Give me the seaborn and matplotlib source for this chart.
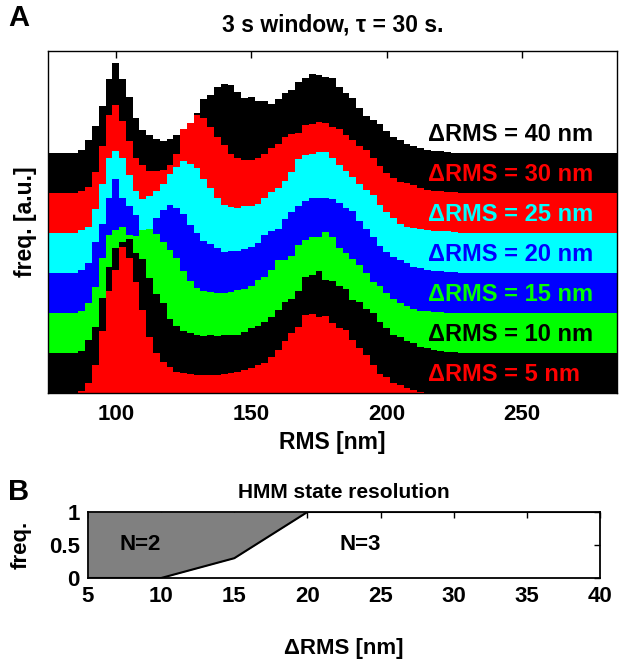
import numpy as np
import matplotlib
matplotlib.use("Agg")
import matplotlib.pyplot as plt
import seaborn as sns
import pandas as pd

# ---------------- data ----------------
rms_centers = np.arange(85, 230.01, 2.5)   # histogram bin centres [nm]
bin_width = 2.5

h40 = [0, 0.75, 3.2, 6.75, 11.75, 18.4, 22.4, 18.4, 14, 8.7,
       5.75, 4.5, 3.4, 3, 3.4, 4.5, 5.5, 7.0, 9.9, 13.4,
       14.6, 16.5, 17.2, 17, 15.25, 13.75, 14, 13.1, 12.9, 12.25,
       13.4, 14.9, 15.7, 17.75, 18.7, 19.7, 19.5, 19.1, 18.7, 16.5,
       15, 13.75, 11.25, 9.25, 8.25, 7.25, 5.5, 4, 3.25, 2.25,
       1.75, 1.25, 0.75, 0.5, 0.4, 0.25, 0.1, 0.1, 0]
h30 = [0, 0.5, 1.5, 5.25, 11.75, 19.5, 22, 18, 13, 8.75,
       7, 5.5, 5.4, 5.75, 7, 9.75, 16, 17.6, 19.5, 18.8,
       16.5, 14, 12, 9.8, 8.7, 8.2, 8.2, 8.7, 9.8, 11.2,
       12.2, 14, 14.8, 15, 17, 17.3, 17.75, 17.5, 16.5, 16,
       14.5, 13.2, 11.75, 10.7, 8.8, 6.75, 5, 3.8, 2.8, 2.6,
       1.9, 1.3, 0.7, 0.5, 0.4, 0.25, 0.2, 0.1, 0]
h25 = [0, 0.75, 1.6, 5.9, 12.3, 18.7, 20.5, 18.7, 14.5, 10.5,
       8.4, 9.25, 10.5, 12.3, 14.7, 16.5, 18, 17.3, 16.2, 13.4,
       11.3, 8.8, 7, 6.5, 6.3, 6.75, 6.75, 7.2, 8.7, 10.3,
       11.2, 13, 15.3, 18.4, 19.5, 19.8, 20.3, 20.3, 18.7, 17,
       15.5, 14, 12.2, 10.75, 9.5, 7, 5.25, 3.75, 2.2, 1.6,
       1.2, 0.9, 0.75, 0.6, 0.5, 0.4, 0.25, 0.1, 0]
h20 = [0, 0.75, 2.5, 7.8, 12.25, 18.8, 23.6, 18.8, 16.75, 14.5,
       10, 10.5, 13.75, 15.75, 17, 16.3, 14.7, 12, 10, 8.1,
       7.25, 6.2, 5.3, 5.6, 5.6, 5.9, 6.6, 7.6, 9.5, 10.6,
       11, 13.4, 15.3, 16.75, 18, 18.8, 18.7, 18.7, 18.4, 17.6,
       16.3, 15.5, 13, 11, 9, 6.75, 5.25, 4.1, 3.25, 2.4,
       1.6, 1.2, 0.75, 0.5, 0.4, 0.3, 0.2, 0.1, 0]
h15 = [0, 0.6, 2.6, 6.6, 13.7, 19.5, 20.75, 21.4, 19.5, 19.25,
       20.75, 20.9, 19.75, 17.8, 15.75, 13.7, 10.6, 8.1, 6.2, 5.6,
       5.3, 5.1, 5.1, 5.3, 5.75, 5.9, 6.75, 8.25, 8.9, 10.75,
       13.25, 13.25, 14.25, 17, 18.25, 18.9, 19.1, 20.25, 19.1, 16.2,
       14.9, 13.4, 12, 9.9, 7.8, 6.75, 5.1, 3.4, 2.6, 1.75,
       0.9, 0.6, 0.4, 0.25, 0.2, 0.1, 0.1, 0, 0]
h10 = [0, 0.6, 3.25, 6.4, 13.7, 21.6, 26.2, 27.8, 28.4, 24.9,
       23.4, 18.7, 14.75, 12.6, 8.4, 6.75, 5.6, 5.1, 4.5, 4.25,
       4.5, 4.25, 4.5, 4.5, 4.5, 5.3, 6.2, 6.75, 7.8, 9.1,
       10.75, 12.8, 13.5, 15.6, 18.9, 19.5, 20.6, 18.25, 17.9, 16.75,
       15.9, 13.25, 12.8, 10.9, 9.9, 7.8, 6.2, 4.5, 3.9, 3.1,
       2.4, 1.6, 1.2, 0.75, 0.5, 0.3, 0.2, 0.1, 0]
h5 = [0, 0.6, 2.6, 7, 15.6, 25.6, 30.75, 36.6, 33.8, 27.8,
      20.75, 13.9, 10.1, 7.8, 6.4, 5.3, 5.1, 4.75, 4.5, 4.5,
      4.5, 4.5, 4.75, 5.1, 5.3, 5.75, 6.3, 7, 7.6, 9.1,
      10.75, 13.1, 15.1, 16.6, 19.5, 19.7, 19.1, 19.25, 17.5, 16.2,
      15.75, 13.25, 11.2, 9.5, 7, 4.75, 4.1, 2.6, 2, 1.2,
      0.75, 0.3, 0.1, 0, 0, 0, 0, 0, 0]

layer_values = [h5, h10, h15, h20, h25, h30, h40]
layer_names = ["5", "10", "15", "20", "25", "30", "40"]
layer_colors = ["#ff0000", "#000000", "#00ff00", "#0000ff", "#00ffff", "#ff0000", "#000000"]
layer_offset_step = 10

# panel B
hmm_drms = [5, 10, 15, 20, 25, 30, 35, 40]
hmm_boundary = [0, 0, 0.3, 1, 1, 1, 1, 1]

# ---------------- style ----------------
sns.set_style("white")
plt.rcParams['font.family'] = ['Liberation Sans', 'DejaVu Sans']
plt.rcParams['font.weight'] = 'bold'
plt.rcParams['axes.labelweight'] = 'bold'
plt.rcParams['text.color'] = 'black'
plt.rcParams['axes.labelcolor'] = 'black'
plt.rcParams['xtick.color'] = 'black'
plt.rcParams['ytick.color'] = 'black'

W, H = 621, 667
fig = plt.figure(figsize=(W / 100, H / 100), dpi=100)

def ax_rect(l, t, r, b):
    return [l / W, 1 - b / H, (r - l) / W, (b - t) / H]

# ---------------- panel A ----------------
axA = fig.add_axes(ax_rect(48, 51, 617, 393))
xlim = (75, 285)
edges = np.append(rms_centers - bin_width / 2, rms_centers[-1] + bin_width / 2)
xs = np.concatenate([[xlim[0]], edges, [xlim[1]]])
for k in reversed(range(len(layer_values))):
    h = np.asarray(layer_values[k], dtype=float)
    ys = np.concatenate([[0.0], h, [0.0, 0.0]]) + k * layer_offset_step
    axA.fill_between(xs, 0, ys, step='post', color=layer_colors[k], linewidth=0,
                     zorder=1 + (len(layer_values) - k))
for k, name in enumerate(layer_names):
    axA.text(215.4, k * layer_offset_step + 4.6, f"ΔRMS = {name} nm", color=layer_colors[k],
             fontsize=17, fontweight='bold', ha='left', va='center', zorder=20)
axA.set_xlim(*xlim)
axA.set_ylim(0, 85.5)
axA.set_xticks([100, 150, 200, 250])
axA.set_yticks([])
axA.tick_params(axis='x', direction='in', top=True, bottom=True, length=5, width=1,
                labelsize=16, pad=8, colors='black')
for lab in axA.get_xticklabels():
    lab.set_fontweight('bold')
for s in axA.spines.values():
    s.set_visible(True)
    s.set_color('black')
    s.set_linewidth(1.0)
    s.set_zorder(30)
axA.set_xlabel("RMS [nm]", fontsize=16.5, fontweight='bold', labelpad=4)
axA.set_ylabel("freq. [a.u.]", fontsize=16.5, fontweight='bold', labelpad=8)
axA.set_title("3 s window, τ = 30 s.", fontsize=16.5, fontweight='bold', pad=14)
fig.text(8 / W, 1 - 18 / H, "A", fontsize=21, fontweight='bold', ha='left', va='center')

# ---------------- panel B ----------------
axB = fig.add_axes(ax_rect(88, 512, 600, 578))
dfB = pd.DataFrame({"dRMS": hmm_drms, "boundary": hmm_boundary})
axB.fill_between(dfB["dRMS"], dfB["boundary"], 1, color="#808080", linewidth=0, zorder=1)
sns.lineplot(data=dfB, x="dRMS", y="boundary", color="black", linewidth=1.5, ax=axB, zorder=2)
axB.text(8.6, 0.5, "N=2", fontsize=16, fontweight='bold', ha='center', va='center')
axB.text(23.6, 0.5, "N=3", fontsize=16, fontweight='bold', ha='center', va='center')
axB.set_xlim(5, 40)
axB.set_ylim(0, 1)
axB.set_xticks([5, 10, 15, 20, 25, 30, 35, 40])
axB.set_yticks([0, 0.5, 1])
axB.set_yticklabels(["0", "0.5", "1"])
axB.tick_params(direction='in', top=True, right=True, length=4, width=1, labelsize=16,
                pad=6, colors='black')
for lab in axB.get_xticklabels() + axB.get_yticklabels():
    lab.set_fontweight('bold')
for s in axB.spines.values():
    s.set_visible(True)
    s.set_color('black')
    s.set_linewidth(1.3)
axB.set_xlabel("ΔRMS [nm]", fontsize=16, fontweight='bold', labelpad=22)
axB.set_ylabel("freq.", fontsize=16, fontweight='bold', labelpad=12)
axB.set_title("HMM state resolution", fontsize=15, fontweight='bold', pad=10)
fig.text(8 / W, 1 - 492 / H, "B", fontsize=21, fontweight='bold', ha='left', va='center')

fig.savefig("out.png", dpi=100)
